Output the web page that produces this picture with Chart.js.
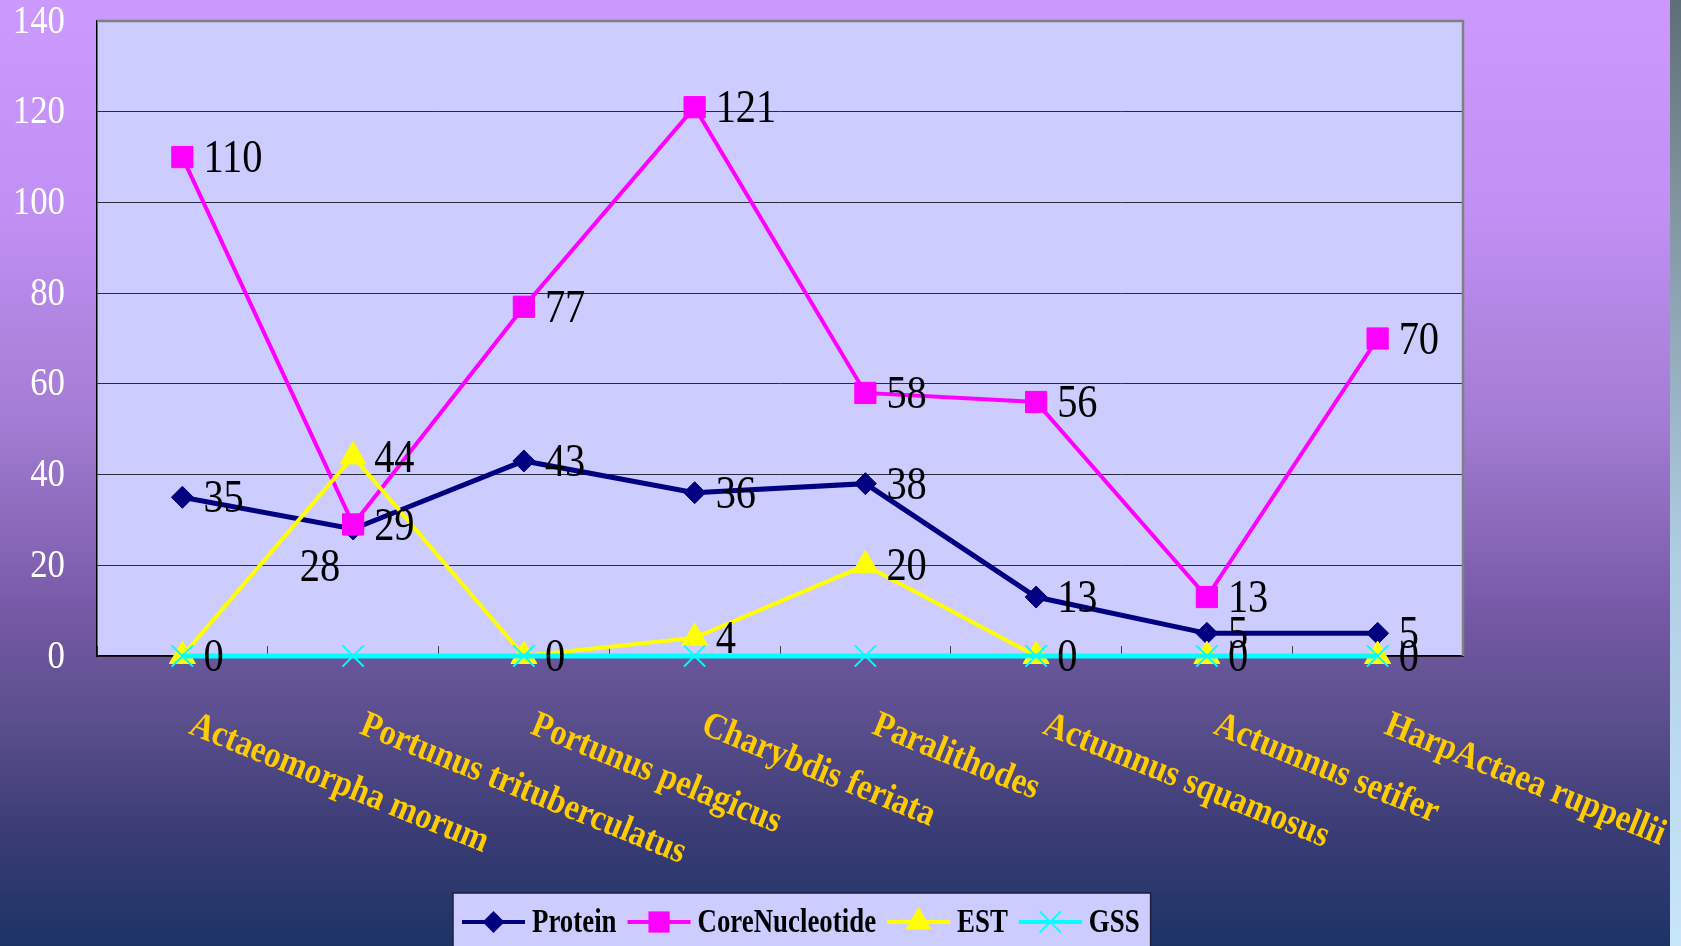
<!DOCTYPE html>
<html>
<head>
<meta charset="utf-8">
<script src="https://cdn.jsdelivr.net/npm/chart.js@4.4.1/dist/chart.umd.min.js"></script>
<style>
  html, body { margin: 0; padding: 0; overflow: hidden; background: #1c3366; }
  canvas { display: block; }
</style>
</head>
<body>
<canvas id="chart" width="1681" height="946"></canvas>
<script>
// Database records per crab species
const categories = [
  'Actaeomorpha morum',
  'Portunus trituberculatus',
  'Portunus pelagicus',
  'Charybdis feriata',
  'Paralithodes',
  'Actumnus squamosus',
  'Actumnus setifer',
  'HarpActaea ruppellii'
];
const seriesNames = ['Protein', 'CoreNucleotide', 'EST', 'GSS'];
const protein = [35, 28, 43, 36, 38, 13, 5, 5];
const coreNucleotide = [110, 29, 77, 121, 58, 56, 13, 70];
const est = [0, 44, 0, 4, 20, 0, 0, 0];
const gss = [0, 0, 0, 0, 0, 0, 0, 0];
const yTicks = [0, 20, 40, 60, 80, 100, 120, 140];

const SERIF = "'Liberation Serif', 'Times New Roman', serif";

// Draws a point marker of the given style at (x, y)
function marker(ctx, style, r, x, y, color, lw) {
  ctx.save();
  ctx.fillStyle = color;
  ctx.strokeStyle = color;
  ctx.lineWidth = lw || 1;
  ctx.beginPath();
  if (style === 'rectRot') {
    ctx.moveTo(x - r, y); ctx.lineTo(x, y - r); ctx.lineTo(x + r, y); ctx.lineTo(x, y + r);
    ctx.closePath(); ctx.fill();
  } else if (style === 'rect') {
    const s = Math.SQRT1_2 * r;
    ctx.rect(x - s, y - s, 2 * s, 2 * s); ctx.fill();
  } else if (style === 'triangle') {
    ctx.moveTo(x, y - r);
    ctx.lineTo(x + Math.sin(2 * Math.PI / 3) * r, y - Math.cos(2 * Math.PI / 3) * r);
    ctx.lineTo(x + Math.sin(4 * Math.PI / 3) * r, y - Math.cos(4 * Math.PI / 3) * r);
    ctx.closePath(); ctx.fill();
  } else if (style === 'crossRot') {
    const o = Math.SQRT1_2 * r;
    ctx.moveTo(x - o, y - o); ctx.lineTo(x + o, y + o);
    ctx.moveTo(x + o, y - o); ctx.lineTo(x - o, y + o);
    ctx.stroke();
  }
  ctx.restore();
}

// Text squeezed horizontally, like a narrow serif face
function narrowText(ctx, text, x, y, sx, align) {
  ctx.save();
  ctx.translate(x, y);
  ctx.scale(sx, 1);
  ctx.textAlign = align || 'left';
  ctx.fillText(text, 0, 0);
  ctx.restore();
}

const decorations = {
  id: 'decorations',
  beforeDraw(chart) {
    const { ctx, chartArea: a, width, height } = chart;
    ctx.save();
    const bg = ctx.createLinearGradient(0, 0, 0, height);
    bg.addColorStop(0, '#cc99ff');
    bg.addColorStop(0.22, '#c190f4');
    bg.addColorStop(0.45, '#a27cd2');
    bg.addColorStop(0.645, '#7659a6');
    bg.addColorStop(0.76, '#5b4f8d');
    bg.addColorStop(0.88, '#3b3c75');
    bg.addColorStop(1, '#1c3366');
    ctx.fillStyle = bg;
    ctx.fillRect(0, 0, width, height);

    const strip = ctx.createLinearGradient(0, 0, 0, height);
    strip.addColorStop(0, '#5e6e78');
    strip.addColorStop(0.2, '#7f929e');
    strip.addColorStop(0.6, '#b0cfe4');
    strip.addColorStop(1, '#c8e6fa');
    ctx.fillStyle = strip;
    ctx.fillRect(1670, 0, width - 1670, height);

    ctx.fillStyle = '#ccccff';
    ctx.fillRect(a.left, a.top, a.right - a.left, a.bottom - a.top);
    ctx.restore();
  },
  beforeDatasetsDraw(chart) {
    const { ctx, chartArea: a } = chart;
    ctx.save();
    ctx.strokeStyle = '#808080';
    ctx.lineWidth = 2.5;
    ctx.beginPath();
    ctx.moveTo(a.left, a.top);
    ctx.lineTo(a.right, a.top);
    ctx.lineTo(a.right, a.bottom);
    ctx.stroke();
    ctx.restore();

    // value axis numbers, narrow serif in white
    const ys = chart.scales.y;
    ctx.save();
    ctx.fillStyle = '#ffffff';
    ctx.font = '40px ' + SERIF;
    ctx.textBaseline = 'middle';
    ys.ticks.forEach(t => {
      narrowText(ctx, String(t.value), a.left - 32, ys.getPixelForValue(t.value) + 1, 0.87, 'right');
    });
    ctx.restore();
  },
  afterDatasetsDraw(chart) {
    const { ctx } = chart;
    const xs = chart.scales.x;

    // value labels beside each point
    ctx.save();
    ctx.fillStyle = '#000';
    ctx.font = '46px ' + SERIF;
    ctx.textBaseline = 'middle';
    chart.data.datasets.forEach((ds, di) => {
      if (!ds.showValues) return;
      const meta = chart.getDatasetMeta(di);
      meta.data.forEach((pt, i) => {
        const txt = String(ds.data[i]);
        if (di === 0 && i === 1) {
          // moved under the crossing lines
          narrowText(ctx, txt, pt.x - 13, pt.y + 40, 0.88, 'right');
        } else {
          narrowText(ctx, txt, pt.x + 21, pt.y + 3, 0.88, 'left');
        }
      });
    });
    ctx.restore();

    // slanted category names
    ctx.save();
    ctx.fillStyle = '#ffcc00';
    ctx.font = 'bold 37px ' + SERIF;
    ctx.textBaseline = 'alphabetic';
    const ang = 22 * Math.PI / 180;
    categories.forEach((name, i) => {
      const x = xs.getPixelForValue(i) + 5;
      ctx.save();
      ctx.translate(x, 733);
      ctx.rotate(ang);
      ctx.scale(0.885, 1);
      ctx.fillText(name, 0, 0);
      ctx.restore();
    });
    ctx.restore();

    // legend strip
    ctx.save();
    ctx.font = 'bold 34px ' + SERIF;
    ctx.textBaseline = 'middle';
    const sx = 0.79;
    const lineLen = 63, gapText = 7, gapItem = 11, padL = 9, padR = 11;
    const items = chart.data.datasets.map(ds => ({
      ds, w: ctx.measureText(ds.label).width * sx
    }));
    let total = padL + padR;
    items.forEach((it, k) => { total += lineLen + gapText + it.w + (k < items.length - 1 ? gapItem : 0); });
    const boxL = 453, boxT = 893, cy = 922;
    ctx.fillStyle = '#ccccff';
    ctx.fillRect(boxL, boxT, total, 80);
    ctx.strokeStyle = '#1e1e3c';
    ctx.lineWidth = 1.5;
    ctx.strokeRect(boxL, boxT, total, 80);
    let x = boxL + padL;
    items.forEach(it => {
      const ds = it.ds;
      ctx.strokeStyle = ds.borderColor;
      ctx.lineWidth = 4;
      ctx.beginPath();
      ctx.moveTo(x, cy); ctx.lineTo(x + lineLen, cy);
      ctx.stroke();
      marker(ctx, ds.pointStyle, ds.pointRadius, x + lineLen / 2, cy, ds.borderColor, ds.pointBorderWidth);
      x += lineLen + gapText;
      ctx.fillStyle = '#000';
      narrowText(ctx, ds.label, x, cy + 1, sx, 'left');
      x += it.w + gapItem;
    });
    ctx.restore();
  }
};

Chart.defaults.font.family = SERIF;

new Chart(document.getElementById('chart'), {
  type: 'line',
  data: {
    labels: categories,
    datasets: [
      { label: seriesNames[0], data: protein, borderColor: '#000080', backgroundColor: '#000080',
        borderWidth: 5, pointStyle: 'rectRot', pointRadius: 11, pointBorderWidth: 1,
        order: 4, clip: false, showValues: true },
      { label: seriesNames[1], data: coreNucleotide, borderColor: '#ff00ff', backgroundColor: '#ff00ff',
        borderWidth: 4, pointStyle: 'rect', pointRadius: 15, pointBorderWidth: 1,
        order: 3, clip: false, showValues: true },
      { label: seriesNames[2], data: est, borderColor: '#ffff00', backgroundColor: '#ffff00',
        borderWidth: 4, pointStyle: 'triangle', pointRadius: 15, pointBorderWidth: 1,
        order: 2, clip: false, showValues: true },
      { label: seriesNames[3], data: gss, borderColor: '#00ffff', backgroundColor: '#00ffff',
        borderWidth: 5, pointStyle: 'crossRot', pointRadius: 15, pointBorderWidth: 2,
        order: 1, clip: false, showValues: false }
    ]
  },
  options: {
    responsive: false,
    animation: false,
    layout: { padding: { left: 0, top: 21, right: 218, bottom: 290 } },
    elements: { line: { tension: 0 } },
    plugins: { legend: { display: false }, tooltip: { enabled: false } },
    scales: {
      x: {
        type: 'category',
        offset: true,
        grid: { display: true, drawOnChartArea: false, drawTicks: true, tickLength: -10,
                offset: true, color: '#404040', lineWidth: 1 },
        border: { display: true, color: '#000', width: 1.5 },
        ticks: { display: false },
        afterFit(s) { s.height = 0; s.paddingLeft = 0; s.paddingRight = 0; }
      },
      y: {
        min: 0, max: 140,
        afterBuildTicks(s) { s.ticks = yTicks.map(v => ({ value: v })); },
        grid: { color: '#2a2a3a', lineWidth: 1, drawTicks: false },
        border: { display: true, color: '#000', width: 1.5 },
        ticks: { display: false },
        afterFit(s) { s.width = 97; s.paddingTop = 0; s.paddingBottom = 0; }
      }
    }
  },
  plugins: [decorations]
});
</script>
</body>
</html>
